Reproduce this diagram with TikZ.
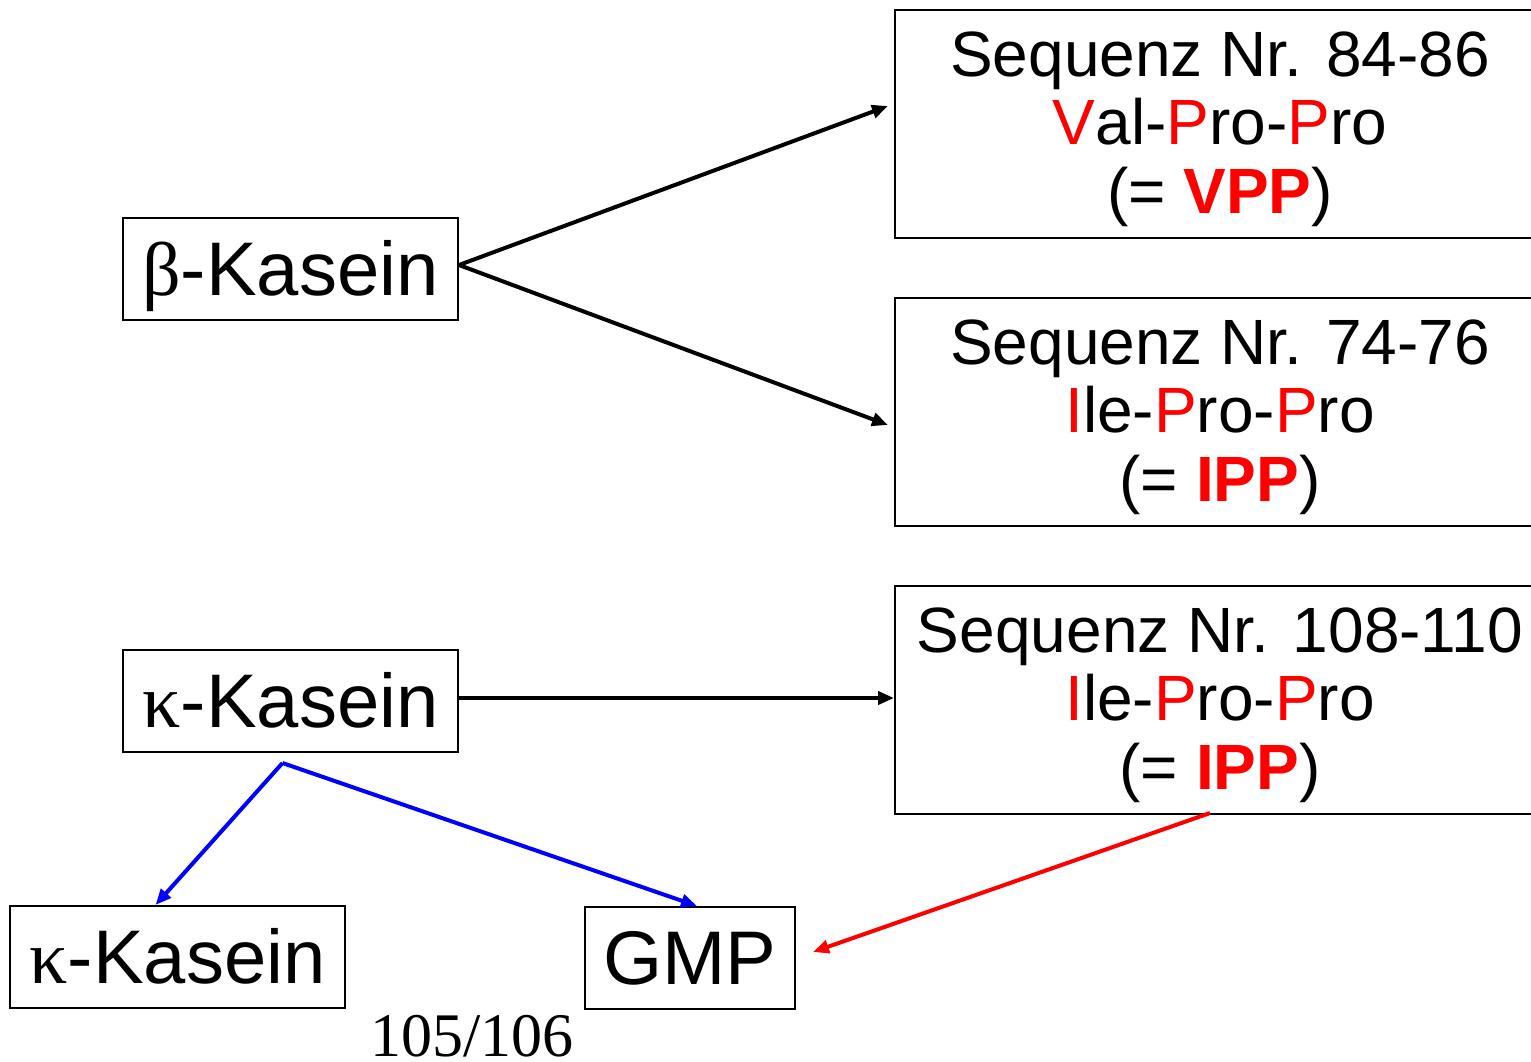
\documentclass[tikz,border=0pt]{standalone}
\usepackage{fontspec}
\setmainfont{Liberation Sans}
\newfontfamily\serifgr{Liberation Serif}
\usetikzlibrary{arrows.meta,calc}
\definecolor{pred}{RGB}{255,0,0}
\definecolor{pblue}{RGB}{0,0,255}
\tikzset{
  seqbox/.style={draw=black,line width=2pt,minimum width=650pt,minimum height=228pt,inner sep=0pt},
  seqtext/.style={inner sep=0pt,align=center,font=\fontsize{64}{68.5}\selectfont},
  kbox/.style={draw=black,line width=2pt,minimum height=102pt,inner sep=0pt,text height=60pt,text depth=8pt,font=\fontsize{76}{80}\selectfont},
  conn/.style={line width=4pt,-{Triangle[length=16pt,width=13pt]}},
}
\newcommand{\rd}[1]{\textcolor{pred}{#1}}
\begin{document}
\begin{tikzpicture}[x=1pt,y=-1pt]
\useasboundingbox (0,0) rectangle (1531,1061);
\node[seqbox] (s1) at (1220,124) {};
\node[seqbox] (s2) at (1220,412) {};
\node[seqbox] (s3) at (1220,700) {};
\node[seqtext] (t1) at ($(s1.center)+(0,5)$) {Sequenz Nr. 84-86\\\rd{V}al-\rd{P}ro-\rd{P}ro\\(= \rd{\bfseries VPP})};
\node[seqtext] (t2) at ($(s2.center)+(0,5)$) {Sequenz Nr. 74-76\\\rd{I}le-\rd{P}ro-\rd{P}ro\\(= \rd{\bfseries IPP})};
\node[seqtext] (t3) at ($(s3.center)+(0,5)$) {Sequenz Nr. 108-110\\\rd{I}le-\rd{P}ro-\rd{P}ro\\(= \rd{\bfseries IPP})};
\node[kbox,minimum width=335pt] (b) at (290.5,269) {{\serifgr β}-Kasein};
\node[kbox,minimum width=335pt] (k1) at (290.5,701) {{\serifgr κ}-Kasein};
\node[kbox,minimum width=335pt] (k2) at (177.5,957) {{\serifgr κ}-Kasein};
\node[kbox,minimum width=210pt] (g) at (690,958) {GMP};
\node[anchor=base,font=\serifgr\fontsize{62}{62}\selectfont,inner sep=0pt,text depth=0pt] (pg) at (472,1056) {105/106};
\draw[conn] ($(b.east)+(0,-4)$) -- ($(s1.west)+(-6,-18)$);
\draw[conn] ($(b.east)+(0,-4)$) -- ($(s2.west)+(-6,13)$);
\draw[conn] (k1.east |- 0,698) -- (s3.west |- 0,698);
\coordinate (kb) at ($(k1.south)+(-8,10)$);
\draw[conn,pblue] (kb) -- ($(k2.north)+(-22,0)$);
\draw[conn,pblue] (kb) -- ($(g.north)+(7,0)$);
\draw[conn,pred] ($(s3.south)+(-10,-2)$) -- ($(g.east)+(17,-6)$);
\end{tikzpicture}
\end{document}
